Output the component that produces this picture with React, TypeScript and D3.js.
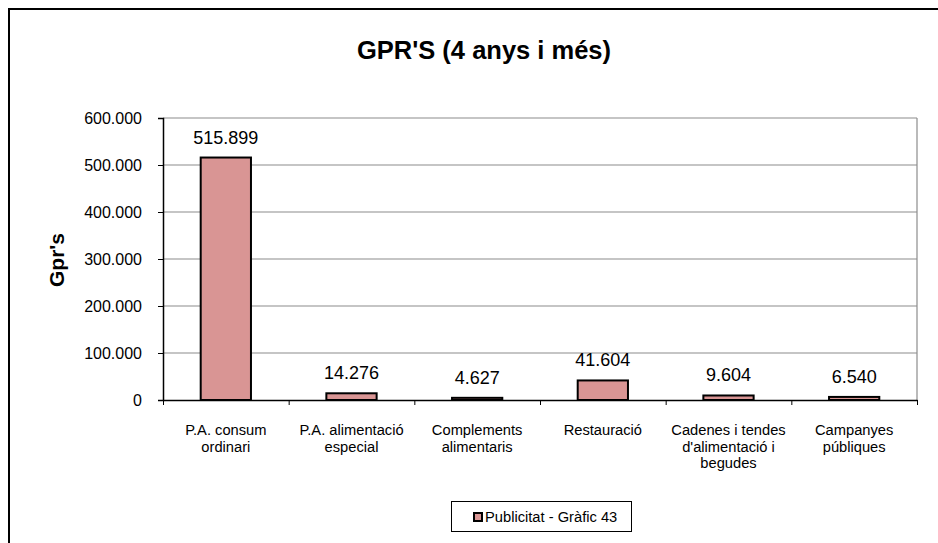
import { useRef, useEffect } from 'react';
import * as d3 from 'd3';

const categories = [
  'P.A. consum\nordinari',
  'P.A. alimentació\nespecial',
  'Complements\nalimentaris',
  'Restauració',
  "Cadenes i tendes\nd'alimentació i\nbegudes",
  'Campanyes\npúbliques',
];
const values = [515899, 14276, 4627, 41604, 9604, 6540];
const valueLabels = ['515.899', '14.276', '4.627', '41.604', '9.604', '6.540'];
const yTicks = [0, 100000, 200000, 300000, 400000, 500000, 600000];
const title = "GPR'S (4 anys i més)";
const yTitle = "Gpr's";
const legendLabel = 'Publicitat - Gràfic 43';

const W = 938;
const H = 543;
const FONT = '"Liberation Sans", Arial, sans-serif';
const PLOT = { left: 163, top: 118, right: 917, bottom: 400 };

export default function App() {
  const svgRef = useRef<SVGSVGElement>(null);

  useEffect(() => {
    const svg = d3.select(svgRef.current).attr('viewBox', `0 0 ${W} ${H}`);
    svg.selectAll('*').remove();

    const x = d3.scaleBand<string>().domain(categories).range([PLOT.left, PLOT.right]).paddingInner(0.6).paddingOuter(0.3);
    const y = d3.scaleLinear().domain([0, 600000]).range([PLOT.bottom, PLOT.top]);
    const fmt = (v: number) => (v === 0 ? '0' : d3.format(',.3f')(v / 1000).replace(/,/g, ''));

    svg.append('rect').attr('width', W).attr('height', H).attr('fill', '#fff');
    // outer chart frame (runs past right/bottom edges)
    svg.append('rect').attr('x', 9).attr('y', 9).attr('width', 960).attr('height', 560)
      .attr('fill', 'none').attr('stroke', '#000').attr('stroke-width', 2);

    svg.append('text').attr('x', 484).attr('y', 59).attr('text-anchor', 'middle')
      .attr('font-family', FONT).attr('font-weight', 'bold').attr('font-size', 25.5).text(title);

    // gridlines
    svg.append('g').selectAll('line').data(yTicks.filter((t) => t > 0)).join('line')
      .attr('x1', PLOT.left).attr('x2', PLOT.right)
      .attr('y1', (d) => y(d)).attr('y2', (d) => y(d))
      .attr('stroke', '#8c8c8c').attr('stroke-width', 1.2);
    svg.append('line').attr('x1', PLOT.right).attr('x2', PLOT.right).attr('y1', PLOT.top).attr('y2', PLOT.bottom)
      .attr('stroke', '#8c8c8c').attr('stroke-width', 1.2);

    // bars
    svg.append('g').selectAll('rect').data(values).join('rect')
      .attr('x', (_d, i) => x(categories[i])!)
      .attr('width', x.bandwidth())
      .attr('y', (d) => y(d))
      .attr('height', (d) => PLOT.bottom - y(d))
      .attr('fill', '#d99594').attr('stroke', '#000').attr('stroke-width', 2);

    svg.append('g').selectAll('text').data(values).join('text')
      .attr('x', (_d, i) => x(categories[i])! + x.bandwidth() / 2)
      .attr('y', (d) => y(d) - 14)
      .attr('text-anchor', 'middle').attr('font-family', FONT).attr('font-size', 18)
      .text((_d, i) => valueLabels[i]);

    // y axis
    const yAxis = svg.append('g').attr('transform', `translate(${PLOT.left},0)`)
      .call(d3.axisLeft(y).tickValues(yTicks).tickSize(5).tickPadding(16).tickFormat((d) => fmt(+d)));
    yAxis.select('.domain').attr('stroke', '#000').attr('stroke-width', 1.5);
    yAxis.selectAll('.tick line').attr('stroke', '#000');
    yAxis.selectAll('.tick text').attr('font-family', FONT).attr('font-size', 16).attr('fill', '#000');

    // x axis with ticks at category boundaries
    const step = (PLOT.right - PLOT.left) / categories.length;
    const xAxisScale = d3.scaleLinear().domain([0, categories.length]).range([PLOT.left, PLOT.right]);
    const xAxis = svg.append('g').attr('transform', `translate(0,${PLOT.bottom})`)
      .call(d3.axisBottom(xAxisScale).tickValues(d3.range(categories.length + 1)).tickSize(5).tickSizeOuter(0).tickFormat(() => ''));
    xAxis.select('.domain').attr('stroke', '#000').attr('stroke-width', 1.5);
    xAxis.selectAll('.tick line').attr('stroke', '#000');

    const catLabels = svg.append('g').selectAll('text').data(categories).join('text')
      .attr('x', (_d, i) => PLOT.left + step * (i + 0.5))
      .attr('y', 435)
      .attr('text-anchor', 'middle').attr('font-family', FONT).attr('font-size', 14.7);
    catLabels.selectAll('tspan').data((d) => d.split('\n')).join('tspan')
      .attr('x', function () { return (this as SVGTSpanElement).parentElement!.getAttribute('x'); })
      .attr('dy', (_d, j) => (j === 0 ? 0 : 16.5))
      .text((d) => d);

    svg.append('text').attr('transform', `translate(64,260) rotate(-90)`)
      .attr('text-anchor', 'middle').attr('font-family', FONT).attr('font-weight', 'bold').attr('font-size', 21)
      .text(yTitle);

    // legend
    const lg = svg.append('g');
    lg.append('rect').attr('x', 451.5).attr('y', 501.5).attr('width', 180).attr('height', 30)
      .attr('fill', '#fff').attr('stroke', '#000').attr('stroke-width', 1);
    lg.append('rect').attr('x', 474).attr('y', 513).attr('width', 8).attr('height', 8)
      .attr('fill', '#d99594').attr('stroke', '#000').attr('stroke-width', 2);
    lg.append('text').attr('x', 485).attr('y', 522).attr('font-family', FONT).attr('font-size', 14.7).text(legendLabel);
  }, []);

  return <svg ref={svgRef} width={W} height={H} style={{ display: 'block', position: 'absolute', left: 0, top: 0 }} />;
}
